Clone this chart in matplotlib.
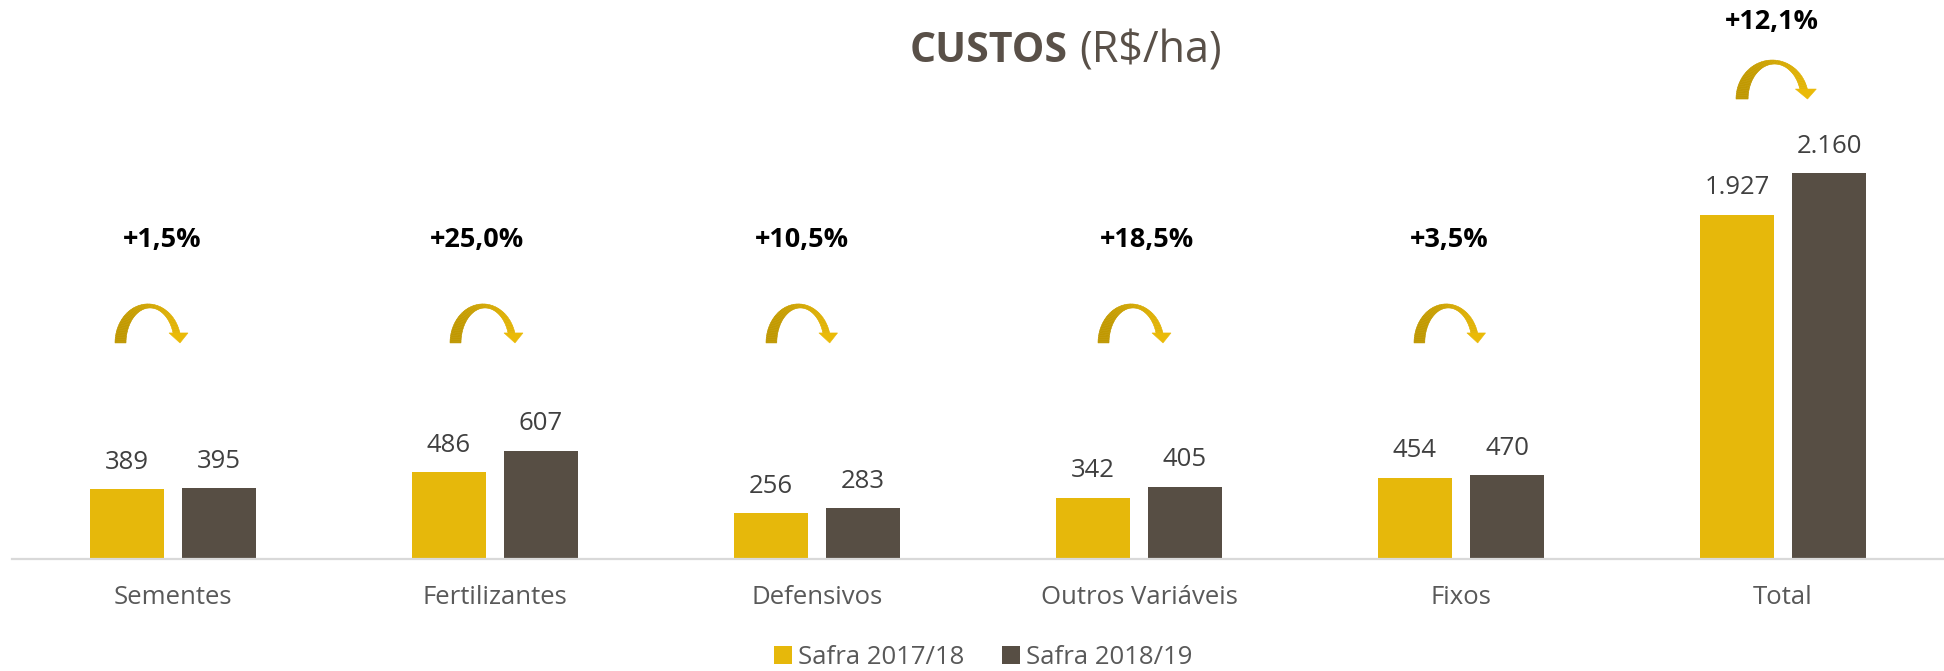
import numpy as np
import matplotlib
matplotlib.use("Agg")
import matplotlib.pyplot as plt
import matplotlib.transforms as mtransforms
from matplotlib.collections import PolyCollection
from matplotlib.patches import Polygon, Patch
from matplotlib.colors import to_rgb

plt.rcParams['font.family'] = ['Open Sans', 'DejaVu Sans']

# ---------------- data ----------------
categories = ["Sementes", "Fertilizantes", "Defensivos", "Outros Variáveis", "Fixos", "Total"]
safra_1718 = [389, 486, 256, 342, 454, 1927]
safra_1819 = [395, 607, 283, 405, 470, 2160]
variacao = ["+1,5%", "+25,0%", "+10,5%", "+18,5%", "+3,5%", "+12,1%"]
series_names = ["Safra 2017/18", "Safra 2018/19"]

# ---------------- styles / layout ----------------
C_YEL = "#E6B80B"
C_DARK = "#574E44"
C_ARR_L = "#BC9500"
C_ARR_R = "#EABA08"
DPI = 100
W, H = 1944, 671
PX = 72.0 / DPI  # points per pixel

# annotation placement (pixel offsets from category centre; heights in data units)
arrow_dx = [-58, -45, -51, -41, -47, -47]
arrow_sx = [1.0, 1.0, 0.98, 1.0, 0.98, 1.1]
arrow_y = [1209, 1209, 1209, 1209, 1209, 2574]
pct_dx = [-11, -18, -15, 8, -12, -11]
pct_y = [1785, 1785, 1785, 1785, 1785, 3005]

fig = plt.figure(figsize=(W / DPI, H / DPI), dpi=DPI)
ax_left, ax_right = 12, 1944
base_px = 559
ax = fig.add_axes([ax_left / W, (H - base_px) / H, (ax_right - ax_left) / W, base_px / H])

x = np.arange(len(categories))
bw = 0.227
off = 0.143
b1 = ax.bar(x - off, safra_1718, bw, color=C_YEL, zorder=2)
b2 = ax.bar(x + off, safra_1819, bw, color=C_DARK, zorder=2)

ax.set_xlim(-0.5, len(categories) - 0.5)
ax.set_ylim(0, base_px / 0.1787)

for s in ["top", "left", "right"]:
    ax.spines[s].set_visible(False)
ax.spines["bottom"].set_color("#D9D9D9")
ax.spines["bottom"].set_linewidth(1.6)
ax.set_yticks([])
ax.set_xticks(x, categories, fontsize=18.5, color="#595959")
ax.tick_params(axis="x", length=0, pad=19)


def fmt(v):
    return f"{v:,}".replace(",", ".")


for bars, vals in ((b1, safra_1718), (b2, safra_1819)):
    for rect, v in zip(bars, vals):
        ax.annotate(fmt(v), (rect.get_x() + rect.get_width() / 2, v),
                    xytext=(0, 27 * PX), textcoords="offset points",
                    ha="center", va="center", fontsize=18.5, color="#404040")

# curved arrow shape (pixels, origin at left-bottom, y up)
def arrow_shape(n=60):
    cxo, rxo, ryo = 33.0, 33.0, 39.0
    cxi, rxi, ryi = 35.0, 24.0, 35.0
    yend = 10.0
    to = np.linspace(np.pi, np.arcsin(yend / ryo), n)
    ti = np.linspace(np.pi, np.arcsin(yend / ryi), n)
    ox, oy = cxo + rxo * np.cos(to), ryo * np.sin(to)
    ix, iy = cxi + rxi * np.cos(ti), ryi * np.sin(ti)
    quads = []
    for k in range(n - 1):
        quads.append([(ox[k], oy[k]), (ox[k + 1], oy[k + 1]),
                      (ix[k + 1], iy[k + 1]), (ix[k], iy[k])])
    head = [(54, yend), (73, yend), (65, 0)]
    return quads, head


quads, head = arrow_shape()
cl, cr = np.array(to_rgb(C_ARR_L)), np.array(to_rgb(C_ARR_R))
cols = []
for q in quads:
    xm = np.mean([p[0] for p in q]) / 73.0
    cols.append(tuple(cl + (cr - cl) * min(max(xm, 0), 1)))

for i in range(len(categories)):
    trans = (mtransforms.Affine2D().scale(arrow_sx[i], 1).translate(arrow_dx[i], 0)
             + mtransforms.ScaledTranslation(x[i], arrow_y[i], ax.transData))
    pc = PolyCollection(quads, facecolors=cols, edgecolors=cols, linewidths=0.4,
                        transform=trans, clip_on=False, zorder=3)
    ax.add_collection(pc, autolim=False)
    ax.add_patch(Polygon(head, closed=True, facecolor=C_ARR_R, edgecolor=C_ARR_R,
                         linewidth=0.4, transform=trans, clip_on=False, zorder=3))
    ax.annotate(variacao[i], (x[i], pct_y[i]), xytext=(pct_dx[i] * PX, 0),
                textcoords="offset points", ha="center", va="center",
                fontsize=19.5, fontweight="bold", color="black")

# title
fig.text(1068 / W, 1 - 51 / H, "CUSTOS", ha="right", va="center",
         fontsize=29.5, fontweight="bold", color="#595048")
fig.text(1079 / W, 1 - 51 / H, "(R$/ha)", ha="left", va="center",
         fontsize=31, color="#595048")

# legend
handles = [Patch(facecolor=C_YEL), Patch(facecolor=C_DARK)]
fig.legend(handles, series_names, loc="center", bbox_to_anchor=(983 / W, 1 - 657 / H),
           ncol=2, frameon=False, fontsize=18.5, labelcolor="#595959",
           handlelength=0.7, handleheight=0.7, handletextpad=0.25,
           columnspacing=1.45, borderpad=0, borderaxespad=0)

fig.savefig("out.png", dpi=DPI)
